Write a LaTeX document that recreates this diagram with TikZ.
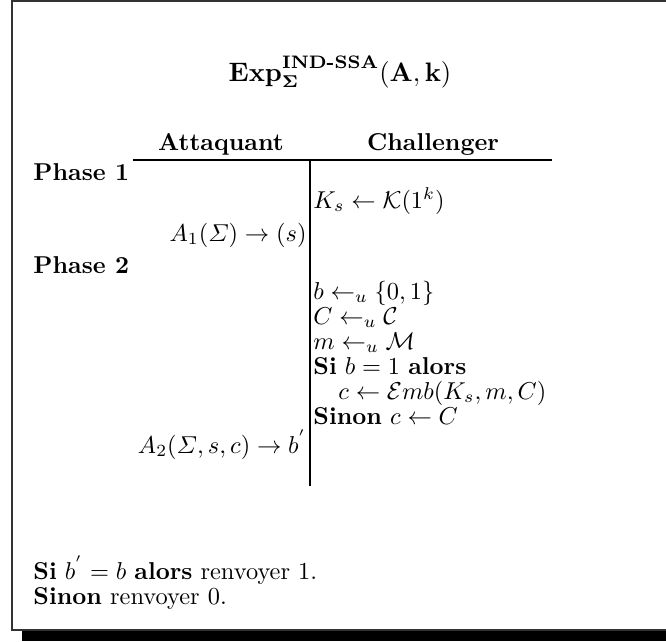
\documentclass[tikz,border=0pt]{standalone}
\usepackage{amsmath,amssymb}
\usepackage{tikz}
\usetikzlibrary{positioning}
\tikzset{
  hdr/.style   ={inner sep=0pt,anchor=base,font=\bfseries},
  phase/.style ={inner sep=0pt,anchor=base west,font=\bfseries},
  att/.style   ={inner sep=0pt,anchor=base east},
  chal/.style  ={inner sep=0pt,anchor=base west},
  outro/.style ={inner sep=0pt,anchor=base west},
  rule/.style  ={line width=0.45pt,draw=black},
  frame/.style ={line width=0.5pt,draw=black!80},
  shade/.style ={fill=black}
}
\begin{document}
\begin{tikzpicture}[x=0.41pt,y=-0.41pt]
    \clip (0,0) rectangle (666,641);
    % frame with shadow
    \fill[shade] (22,631) rectangle (700,641);
    \draw[frame] (12,1) rectangle (700,630);
    % title
    \node[inner sep=0pt,anchor=base,font=\fontsize{10.6}{13}\selectfont] (title) at (340,81)
      {$\mathbf{Exp}^{\text{\textbf{IND-SSA}}}_{\boldsymbol{\Sigma}}(\mathbf{A},\mathbf{k})$};
    % table head
    \node[hdr] (hatt) at (221,150) {Attaquant};
    \node[hdr] (hchal) at (433,150) {Challenger};
    \coordinate (rl) at (133,160);
    \coordinate (rr) at (552,160);
    \coordinate (vt) at (310,160);
    \coordinate (vb) at (310,486);
    \draw[rule] (rl) -- (rr);
    \draw[rule] (vt) -- (vb);
    % phase 1
    \node[phase] (ph1) at (33,180) {Phase 1};
    \node[chal] (ks) at (313,208) {$K_s \leftarrow \mathcal{K}(1^k)$};
    \node[att] (a1) at (307,241) {$A_1(\varSigma) \rightarrow (s)$};
    % phase 2
    \node[phase] (ph2) at (33,273) {Phase 2};
    \node[chal] (b) at (313,299) {$b \leftarrow_u \{0,1\}$};
    \node[chal] (cc) at (313,324) {$C \leftarrow_u \mathcal{C}$};
    \node[chal] (m) at (313,349) {$m \leftarrow_u \mathcal{M}$};
    \node[chal] (si) at (313,374) {\textbf{Si} $b=1$ \textbf{alors}};
    \node[chal] (emb) at (338,399) {$c \leftarrow \mathcal{E}mb(K_s,m,C)$};
    \node[chal] (sinon) at (313,424) {\textbf{Sinon} $c \leftarrow C$};
    \node[att] (a2) at (307,453) {$A_2(\varSigma,s,c) \rightarrow b^{'}$};
    % result
    \node[outro] (res1) at (33,579) {\textbf{Si} $b^{'}=b$ \textbf{alors} renvoyer 1.};
    \node[outro] (res0) at (33,604) {\textbf{Sinon} renvoyer 0.};
  \end{tikzpicture}
\end{document}
